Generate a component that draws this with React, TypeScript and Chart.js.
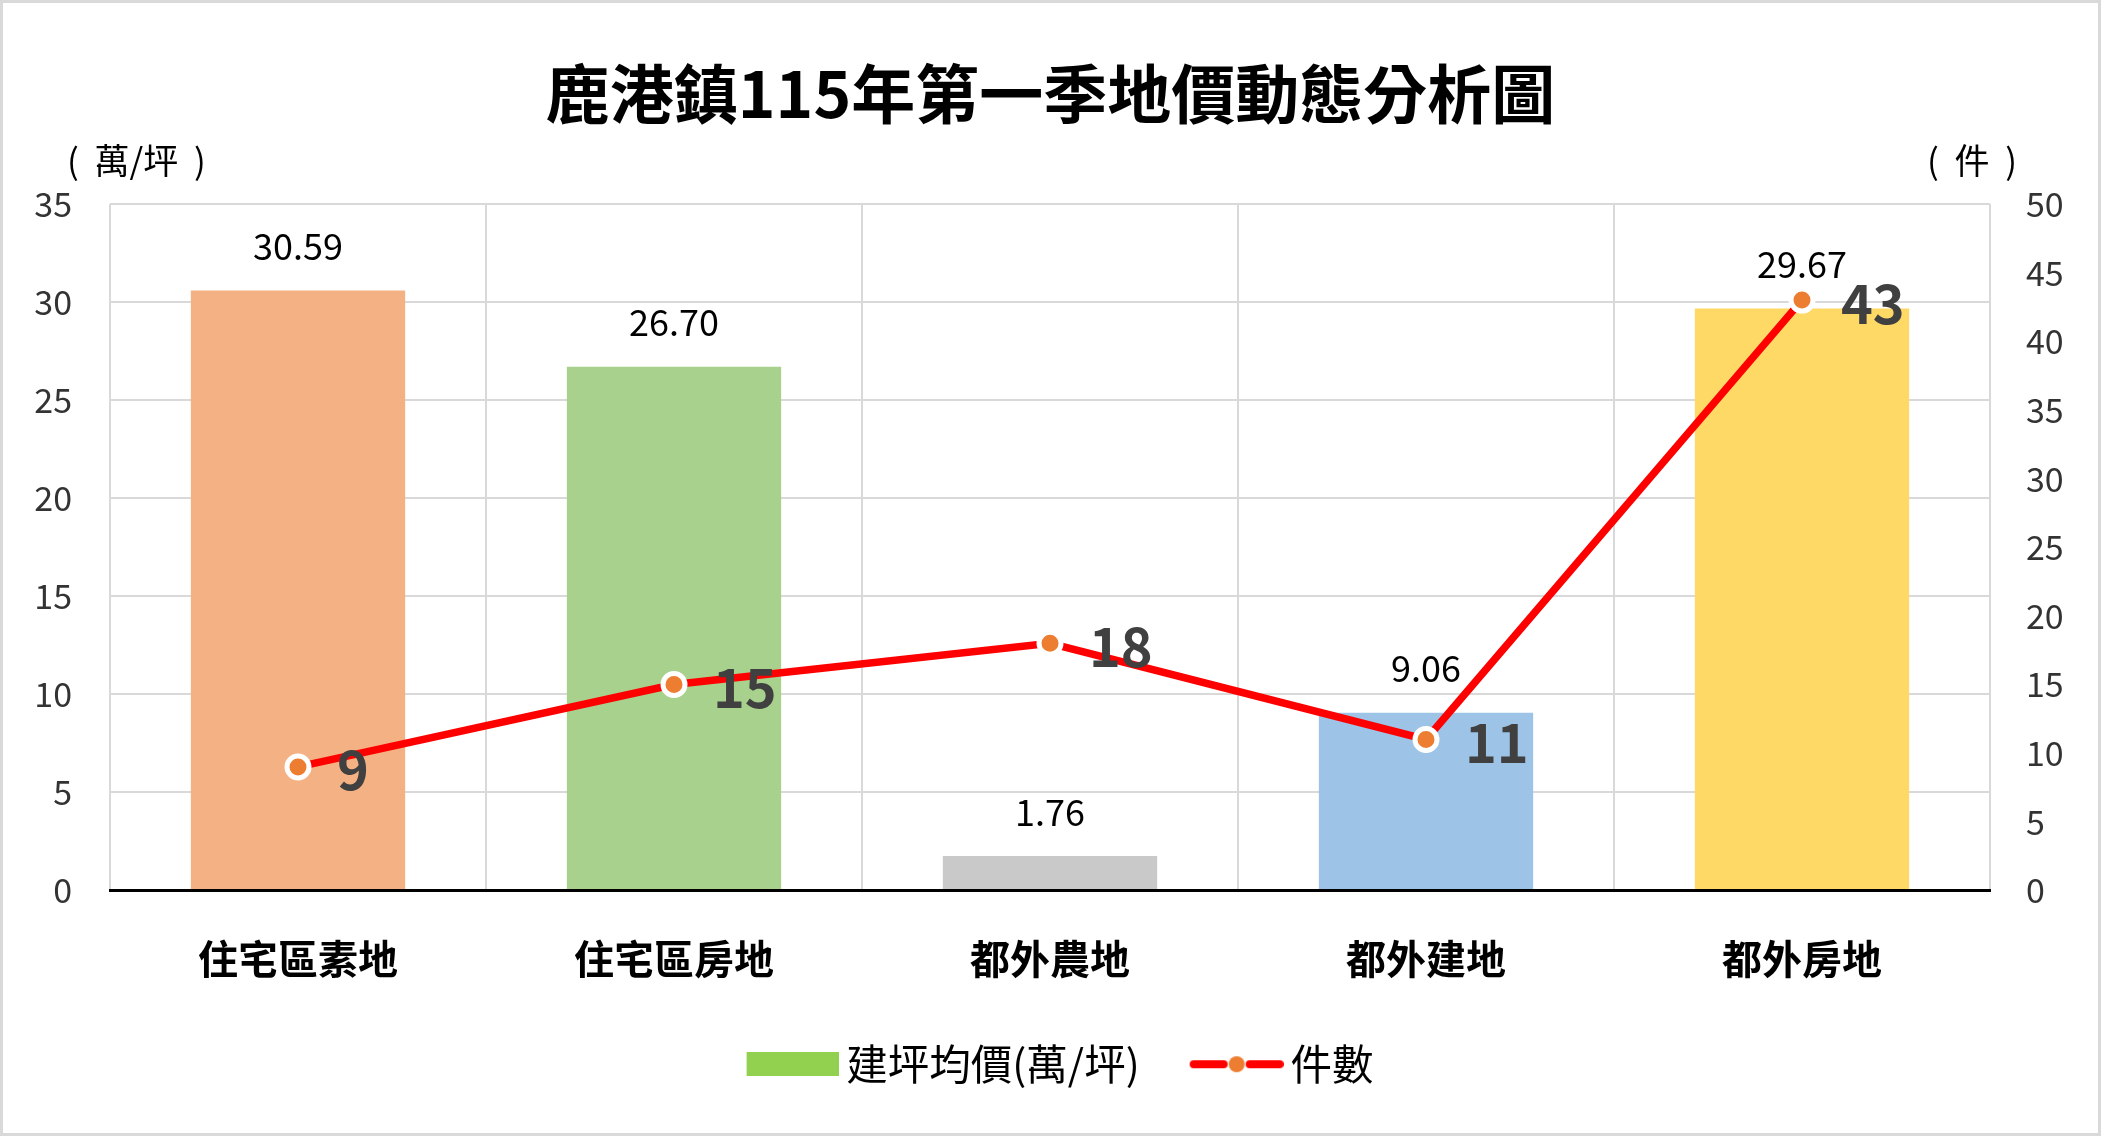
import React, { useEffect, useRef } from 'react';
import { Chart, registerables } from 'chart.js';

Chart.register(...registerables);

const W = 2101;
const H = 1136;
const FONT = '"Noto Sans CJK TC", "Noto Sans", sans-serif';

const TITLE = '鹿港鎮115年第一季地價動態分析圖';
const CATEGORIES = ['住宅區素地', '住宅區房地', '都外農地', '都外建地', '都外房地'];
const PRICE_VALUES = [30.59, 26.7, 1.76, 9.06, 29.67];
const COUNT_VALUES = [9, 15, 18, 11, 43];
const BAR_COLORS = ['#F4B183', '#A9D18E', '#C9C9C9', '#9DC3E6', '#FFD966'];
const PRICE_LABEL = '建坪均價(萬/坪)';
const COUNT_LABEL = '件數';
const LEFT_UNIT = '(  萬/坪  )';
const RIGHT_UNIT = '(  件  )';
const LEFT_MAX = 35;
const RIGHT_MAX = 50;
const TICK_STEP = 5;

const decorPlugin = {
  id: 'decor',
  beforeDraw(chart: any) {
    const { ctx, width, height } = chart;
    ctx.save();
    ctx.fillStyle = '#ffffff';
    ctx.fillRect(0, 0, width, height);
    ctx.strokeStyle = '#d9d9d9';
    ctx.lineWidth = 3;
    ctx.strokeRect(1.5, 1.5, width - 3, height - 3);
    ctx.restore();
  },
  afterDatasetsDraw(chart: any) {
    const { ctx, chartArea } = chart;
    ctx.save();
    ctx.fillStyle = '#000';
    ctx.textBaseline = 'middle';
    ctx.textAlign = 'center';
    ctx.font = `bold 64px ${FONT}`;
    ctx.fillText(TITLE, chart.width / 2, 94);

    ctx.font = `35px ${FONT}`;
    ctx.textAlign = 'left';
    ctx.fillText(LEFT_UNIT, chartArea.left - 43, chartArea.top - 43);
    ctx.textAlign = 'right';
    ctx.fillText(RIGHT_UNIT, chartArea.right + 27, chartArea.top - 43);

    const barMeta = chart.getDatasetMeta(0);
    ctx.font = `36px ${FONT}`;
    ctx.textAlign = 'center';
    ctx.fillStyle = '#000';
    barMeta.data.forEach((el: any, i: number) => {
      ctx.fillText(PRICE_VALUES[i].toFixed(2), el.x, el.y - 44);
    });

    const lineMeta = chart.getDatasetMeta(1);
    ctx.font = `bold 54px ${FONT}`;
    ctx.fillStyle = '#404040';
    ctx.textAlign = 'left';
    lineMeta.data.forEach((el: any, i: number) => {
      ctx.fillText(String(COUNT_VALUES[i]), el.x + 39, el.y + 3);
    });
    ctx.restore();
  },
};

function makeBarIcon() {
  const c = document.createElement('canvas');
  c.width = 96;
  c.height = 24;
  const g = c.getContext('2d')!;
  g.fillStyle = '#92D050';
  g.fillRect(4, 0, 92, 24);
  return c;
}

function makeLineIcon() {
  const c = document.createElement('canvas');
  c.width = 98;
  c.height = 24;
  const g = c.getContext('2d')!;
  g.strokeStyle = '#FF0000';
  g.lineWidth = 8;
  g.lineCap = 'round';
  g.beginPath();
  g.moveTo(8, 12);
  g.lineTo(38, 12);
  g.moveTo(64, 12);
  g.lineTo(94, 12);
  g.stroke();
  g.fillStyle = '#ED7D31';
  g.beginPath();
  g.arc(51, 12, 8, 0, Math.PI * 2);
  g.fill();
  return c;
}

export default function App() {
  const ref = useRef<HTMLCanvasElement>(null);

  useEffect(() => {
    document.body.style.margin = '0';
    document.body.style.overflow = 'hidden';
    const canvas = ref.current;
    if (!canvas) return;
    const barIcon = makeBarIcon();
    const lineIcon = makeLineIcon();

    const tickFont = { size: 34, family: FONT };

    const chart = new Chart(canvas, {
      type: 'bar',
      data: {
        labels: CATEGORIES,
        datasets: [
          {
            type: 'bar',
            label: PRICE_LABEL,
            data: PRICE_VALUES,
            backgroundColor: BAR_COLORS,
            yAxisID: 'y',
            barPercentage: 0.57,
            categoryPercentage: 1,
            order: 2,
          } as any,
          {
            type: 'line',
            label: COUNT_LABEL,
            data: COUNT_VALUES,
            yAxisID: 'y1',
            borderColor: '#FF0000',
            borderWidth: 7.5,
            pointRadius: 11,
            pointHoverRadius: 11,
            pointBackgroundColor: '#ED7D31',
            pointBorderColor: '#ffffff',
            pointBorderWidth: 5,
            tension: 0,
            order: 1,
          } as any,
        ],
      },
      options: {
        responsive: true,
        maintainAspectRatio: false,
        animation: false,
        devicePixelRatio: 1,
        layout: { padding: { top: 204, bottom: 41, left: 28, right: 0 } },
        font: { family: FONT },
        plugins: {
          title: { display: false },
          tooltip: { enabled: false },
          legend: {
            display: true,
            position: 'bottom',
            onClick: () => {},
            labels: {
              usePointStyle: true,
              pointStyleWidth: 70,
              padding: 60,
              color: '#000',
              font: { size: 41.5, family: FONT },
              generateLabels: () => [
                {
                  text: PRICE_LABEL,
                  pointStyle: barIcon as any,
                  fillStyle: '#92D050',
                  strokeStyle: 'transparent',
                  lineWidth: 0,
                  hidden: false,
                  datasetIndex: 0,
                  fontColor: '#000',
                },
                {
                  text: COUNT_LABEL,
                  pointStyle: lineIcon as any,
                  fillStyle: '#ED7D31',
                  strokeStyle: 'transparent',
                  lineWidth: 0,
                  hidden: false,
                  datasetIndex: 1,
                  fontColor: '#000',
                },
              ],
            },
          },
        },
        scales: {
          x: {
            offset: true,
            grid: { offset: true, color: '#d9d9d9', lineWidth: 2, drawTicks: false },
            border: { color: '#000', width: 3, z: 1 } as any,
            ticks: {
              font: { size: 40, weight: 'bold', family: FONT },
              color: '#000',
              padding: 44,
              maxRotation: 0,
              autoSkip: false,
            },
            afterFit: (s: any) => {
              s.height = 93;
            },
          },
          y: {
            position: 'left',
            min: 0,
            max: LEFT_MAX,
            ticks: { stepSize: TICK_STEP, font: tickFont, color: '#333', padding: 38 },
            grid: { color: '#d9d9d9', lineWidth: 2, drawTicks: false },
            border: { display: false },
            afterFit: (s: any) => {
              s.width = 82;
            },
          },
          y1: {
            position: 'right',
            min: 0,
            max: RIGHT_MAX,
            ticks: { stepSize: TICK_STEP, font: tickFont, color: '#333', padding: 36 },
            grid: { drawOnChartArea: false, drawTicks: false },
            border: { display: false },
            afterFit: (s: any) => {
              s.width = 111;
            },
          },
        },
      } as any,
      plugins: [decorPlugin],
    });

    return () => chart.destroy();
  }, []);

  return (
    <div style={{ width: W, height: H, position: 'relative', background: '#fff' }}>
      <canvas ref={ref} style={{ display: 'block' }} />
    </div>
  );
}
